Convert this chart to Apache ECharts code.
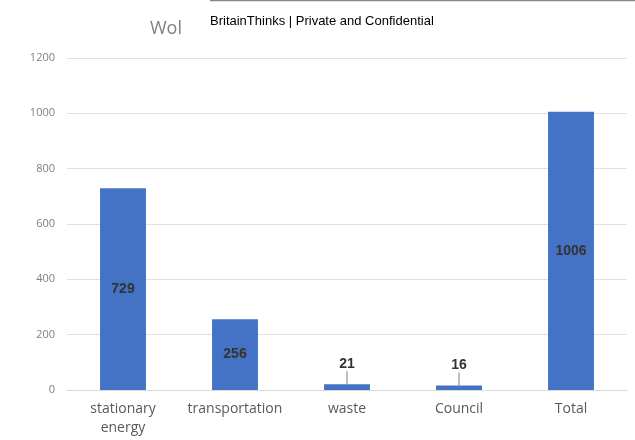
<!DOCTYPE html>
<html><head><meta charset="utf-8">
<script src="https://cdn.jsdelivr.net/npm/echarts@6/dist/echarts.min.js"></script>
<style>html,body{margin:0;padding:0;background:#fff}#c{width:635px;height:440px}</style>
</head><body><div id="c"></div>
<script>
const categories = ['stationary\nenergy', 'transportation', 'waste', 'Council', 'Total'];
const values = [729, 256, 21, 16, 1006];
const insideLabel = [true, true, false, false, true];
const yTicks = [0, 200, 400, 600, 800, 1000, 1200];

const chart = echarts.init(document.getElementById('c'));
chart.setOption({
  animation: false,
  graphic: [
    {type: 'line', shape: {x1: 210, y1: 0.5, x2: 635, y2: 0.5}, style: {stroke: '#888', lineWidth: 1.5}},
    {type: 'text', left: 150, top: 20, style: {text: 'Wol', fill: '#7f7f7f', font: '18px "Open Sans", sans-serif'}},
    {type: 'text', left: 210, top: 15, style: {text: 'BritainThinks | Private and Confidential', fill: '#000', font: '13px "Liberation Sans Narrow", "Liberation Sans", sans-serif'}}
  ],
  grid: {left: 67, right: 8, top: 58, bottom: 50},
  xAxis: {
    type: 'category', data: categories,
    axisTick: {show: false},
    axisLine: {lineStyle: {color: '#d9d9d9'}},
    axisLabel: {interval: 0, color: '#595959', fontSize: 14, fontFamily: 'Open Sans, sans-serif', margin: 10, lineHeight: 19}
  },
  yAxis: {
    type: 'value', min: 0, max: 1200, interval: 200,
    axisLine: {show: false}, axisTick: {show: false},
    splitLine: {lineStyle: {color: '#e0e0e0'}},
    axisLabel: {color: '#7f7f7f', fontSize: 11, fontFamily: 'Open Sans, sans-serif', margin: 12,
      formatter: v => yTicks.includes(v) ? String(v) : ''}
  },
  series: [{
    type: 'bar', barWidth: '41%',
    itemStyle: {color: '#4472C4'},
    data: values.map((v, i) => insideLabel[i] ? {value: v, label: {position: 'inside'}, labelLine: {show: false}} : {
      value: v,
      label: {position: 'top', distance: 0},
      labelLine: {show: true}
    }),
    labelLayout: p => insideLabel[p.dataIndex] ? {} : {dy: -13},
    labelLine: {show: true, length2: 0, lineStyle: {color: '#7f7f7f', width: 1}},
    label: {show: true, color: '#333', fontWeight: 'bold', fontSize: 14, fontFamily: '"Liberation Sans", Arial, sans-serif'}
  }]
});
</script></body></html>
